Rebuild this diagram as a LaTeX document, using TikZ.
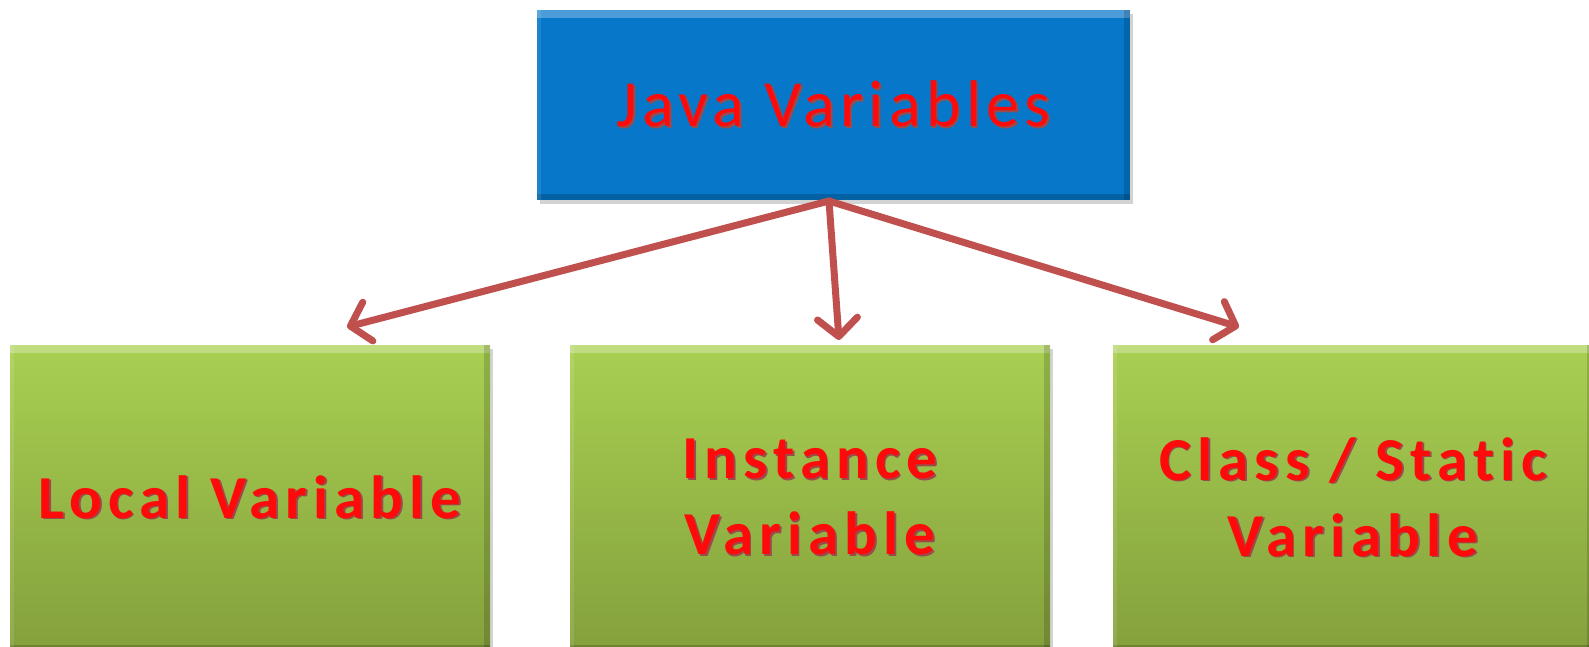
\documentclass[tikz,border=0pt]{standalone}
\usepackage{fontspec}
\setmainfont{Carlito}
\newfontfamily\boxfont[LetterSpace=10,Ligatures={NoCommon,NoRare}]{Carlito}
\newfontfamily\titlefont[LetterSpace=8,Ligatures={NoCommon,NoRare}]{Carlito}
\usetikzlibrary{arrows.meta,shadows}

\definecolor{bluefill}{HTML}{0677C9}
\definecolor{greentop}{HTML}{A8D052}
\definecolor{greenbottom}{HTML}{84A03C}
\definecolor{arrowred}{HTML}{C0504D}
\definecolor{textred}{HTML}{FF0A0A}
\definecolor{textshade}{HTML}{6E0000}

% red lettering with a soft dark shade under it
\newcommand\shadedword[1]{%
  \makebox[0pt][l]{\hspace{0.8pt}\raisebox{-0.8pt}{\textcolor{textshade!70}{#1}}}%
  \textcolor{textred}{#1}}

\tikzset{
  bevel/.style={path picture={
      \fill[white,opacity=0.28] (path picture bounding box.north west)
        rectangle ([yshift=-4pt]path picture bounding box.north east);
      \fill[black,opacity=0.18] (path picture bounding box.south west)
        rectangle ([yshift=3pt]path picture bounding box.south east);
      \fill[black,opacity=0.15] ([xshift=-3pt]path picture bounding box.south east)
        rectangle (path picture bounding box.north east);
      \fill[white,opacity=0.10] (path picture bounding box.south west)
        rectangle ([xshift=2pt]path picture bounding box.north west);
  }},
  topbox/.style={rectangle, inner sep=0pt, bevel,
    minimum width=296.5pt, minimum height=95pt, fill=bluefill,
    drop shadow={shadow xshift=1.5pt, shadow yshift=-2pt, opacity=0.35},
    font=\titlefont\fontsize{33}{38}\selectfont},
  kindbox/.style={rectangle, inner sep=0pt, bevel,
    minimum width=240pt, minimum height=153pt,
    top color=greentop, bottom color=greenbottom,
    drop shadow={shadow xshift=1.5pt, shadow yshift=-2pt, opacity=0.35},
    align=center,
    font=\boxfont\bfseries\fontsize{30.5}{38}\selectfont},
  link/.style={draw=arrowred, line width=3.5pt, line cap=round,
    -{Straight Barb[length=9pt, width=20pt, line cap=round, line join=round]}},
}

\begin{document}
\begin{tikzpicture}[x=0.5pt, y=-0.5pt]
  \useasboundingbox (0,0) rectangle (1589,647);

  \node[topbox] (java) at (833.5,105) {\raisebox{-2pt}{\shadedword{Java Variables}}};

  \node[kindbox] (local)    at (250,498)  {\shadedword{Local Variable}};
  \node[kindbox] (instance) at (810,498)  {\shadedword{Instance}\\\shadedword{Variable}};
  \node[kindbox] (static)   at (1353,498) {\shadedword{Class / Static}\\\shadedword{Variable}};

  \coordinate (hub)  at (829,201);
  \coordinate (tipL) at (347,327);
  \coordinate (tipM) at (839,340);
  \coordinate (tipR) at (1239,327);

  \draw[link] (hub) -- (tipL);
  \draw[link] (hub) -- (tipM);
  \draw[link] (hub) -- (tipR);
\end{tikzpicture}
\end{document}
